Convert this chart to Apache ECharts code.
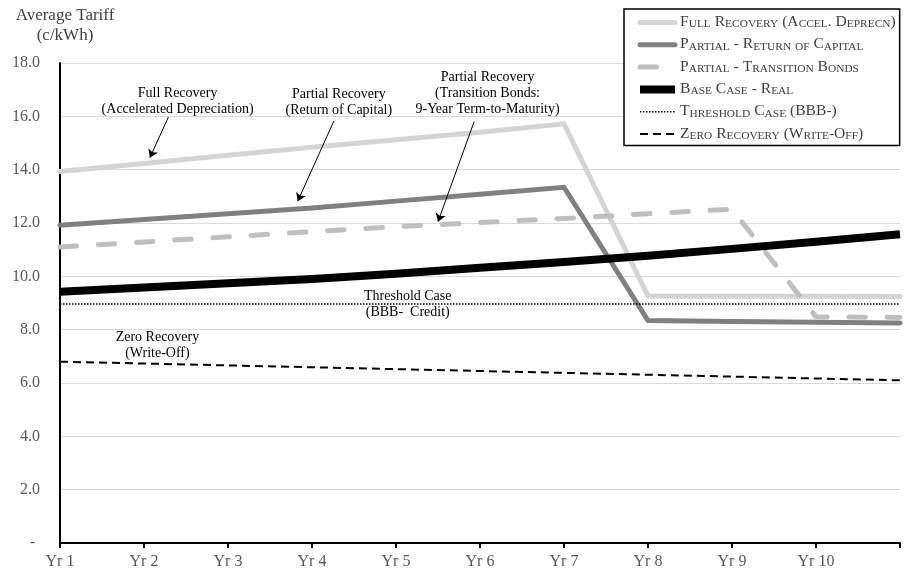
<!DOCTYPE html>
<html>
<head>
<meta charset="utf-8">
<script src="https://cdn.jsdelivr.net/npm/echarts@6/dist/echarts.min.js"></script>
<style>
  html, body { margin: 0; padding: 0; background: #fff; }
  #chart { width: 904px; height: 576px; }
</style>
</head>
<body>
<div id="chart"></div>
<script>
// Year labels along the horizontal axis (the 11th position is an unlabelled end tick)
const years = ['Yr 1', 'Yr 2', 'Yr 3', 'Yr 4', 'Yr 5', 'Yr 6', 'Yr 7', 'Yr 8', 'Yr 9', 'Yr 10', ''];

// Average tariff by scenario, c/kWh
const fullRecovery   = [13.93, 14.23, 14.54, 14.84, 15.12, 15.40, 15.72, 9.26, 9.25, 9.25, 9.24];
const partialCapital = [11.92, 12.13, 12.35, 12.56, 12.82, 13.08, 13.34, 8.34, 8.31, 8.28, 8.25];
const partialBonds   = [11.10, 11.29, 11.48, 11.68, 11.86, 12.02, 12.17, 12.35, 12.52, 8.48, 8.46];
const baseCase       = [9.42, 9.58, 9.74, 9.90, 10.10, 10.32, 10.54, 10.77, 11.03, 11.30, 11.58];
const thresholdCase  = [8.96, 8.96, 8.96, 8.96, 8.96, 8.96, 8.96, 8.96, 8.96, 8.96, 8.96];
const zeroRecovery   = [6.80, 6.73, 6.66, 6.59, 6.52, 6.45, 6.38, 6.31, 6.24, 6.17, 6.10];

// Vertical axis tick labels (0 shown as a dash)
const yTickLabels = ['-', '2.0', '4.0', '6.0', '8.0', '10.0', '12.0', '14.0', '16.0', '18.0'];

const seriesNames = [
  'Full Recovery (Accel. Deprecn)',
  'Partial - Return of Capital',
  'Partial - Transition Bonds',
  'Base Case - Real',
  'Threshold Case (BBB-)',
  'Zero Recovery (Write-Off)'
];

const SERIF = '"Liberation Serif", "Times New Roman", serif';

// Callout texts, anchored in data coordinates [year, tariff]
const callouts = [
  { text: 'Full Recovery\n(Accelerated Depreciation)', at: [2.40, 16.57] },
  { text: 'Partial Recovery\n(Return of Capital)', at: [4.32, 16.54] },
  { text: 'Partial Recovery\n(Transition Bonds:\n9-Year Term-to-Maturity)', at: [6.09, 16.87] },
  { text: 'Threshold Case\n(BBB-  Credit)', at: [5.14, 8.96] },
  { text: 'Zero Recovery\n(Write-Off)', at: [2.16, 7.42] }
];

// Leader arrows from callout text to the line they describe
const arrows = {
  0: [[2.29, 15.97], [2.07, 14.45]],
  1: [[4.26, 15.82], [3.83, 12.82]],
  2: [[5.93, 15.80], [5.50, 12.05]]
};

const toPairs = arr => arr.map((v, i) => [i + 1, v]);

// Render a name in small capitals using rich text tokens
function smallCaps(name) {
  let out = '';
  let cur = '';
  let kind = null;
  for (const ch of name) {
    const k = (ch >= 'a' && ch <= 'z') ? 'b' : 'a';
    if (k !== kind && cur) { out += '{' + kind + '|' + cur + '}'; cur = ''; }
    kind = k;
    cur += k === 'b' ? ch.toUpperCase() : ch;
  }
  if (cur) out += '{' + kind + '|' + cur + '}';
  return out;
}

function arrowMark(idx) {
  const seg = arrows[idx];
  if (!seg) return undefined;
  return {
    silent: true,
    animation: false,
    symbol: ['none', 'arrow'],
    symbolSize: 8,
    label: { show: false },
    lineStyle: { color: '#000', width: 1, type: 'solid' },
    itemStyle: { color: '#000' },
    emphasis: { disabled: true },
    data: [[{ coord: seg[0] }, { coord: seg[1] }]]
  };
}

const styles = [
  { color: '#d4d4d4', width: 5, type: 'solid', cap: 'round', join: 'miter' },
  { color: '#808080', width: 5, type: 'solid', cap: 'round', join: 'miter' },
  { color: '#bfbfbf', width: 5, type: [16.5, 21.8], cap: 'round', join: 'round' },
  { color: '#000000', width: 8, type: 'solid', cap: 'butt', join: 'miter' },
  { color: '#000000', width: 1.5, type: [1.5, 1.5], cap: 'butt', join: 'miter' },
  { color: '#000000', width: 2, type: [8, 5], cap: 'butt', join: 'miter' }
];

const values = [fullRecovery, partialCapital, partialBonds, baseCase, thresholdCase, zeroRecovery];

const chart = echarts.init(document.getElementById('chart'), null, { renderer: 'canvas' });

const option = {
  animation: false,
  backgroundColor: '#fff',
  grid: { left: 60, right: 4, top: 63, bottom: 33, containLabel: false },
  legend: {
    orient: 'vertical',
    left: 624,
    top: 9,
    padding: [5, 4, 4, 12],
    itemWidth: 35,
    itemHeight: 12,
    itemGap: 6.3,
    selectedMode: false,
    borderColor: '#000',
    borderWidth: 1.5,
    backgroundColor: '#fff',
    data: seriesNames,
    itemStyle: { opacity: 0 },
    lineStyle: { width: 'inherit', type: 'inherit', cap: 'inherit' },
    formatter: smallCaps,
    textStyle: {
      color: '#404040',
      fontFamily: SERIF,
      rich: {
        a: { fontSize: 15.6, lineHeight: 15, fontFamily: SERIF, color: '#404040', verticalAlign: 'bottom' },
        b: { fontSize: 11.4, lineHeight: 11, fontFamily: SERIF, color: '#404040', verticalAlign: 'bottom' }
      }
    }
  },
  xAxis: {
    type: 'value',
    min: 1,
    max: 11,
    interval: 1,
    axisLine: { show: true, onZero: false, lineStyle: { color: '#000', width: 2 } },
    axisTick: { show: true, length: 5, lineStyle: { color: '#000', width: 2 } },
    splitLine: { show: false },
    axisLabel: {
      margin: 11,
      color: '#595959',
      fontFamily: SERIF,
      fontSize: 16,
      formatter: v => years[Math.round(v) - 1] || ''
    }
  },
  yAxis: {
    type: 'value',
    min: 0,
    max: 18,
    interval: 2,
    axisLine: { show: true, onZero: false, lineStyle: { color: '#000', width: 2 } },
    axisTick: { show: false },
    splitLine: { show: true, lineStyle: { color: '#d9d9d9', width: 1 } },
    axisLabel: {
      margin: 20,
      color: '#595959',
      fontFamily: SERIF,
      fontSize: 16,
      formatter: v => {
        const s = yTickLabels[Math.round(v / 2)];
        return s === '-' ? '{d|-}' : s;
      },
      rich: { d: { fontSize: 16, fontFamily: SERIF, color: '#595959', padding: [0, 5, 0, 0] } }
    }
  },
  series: seriesNames.map((name, i) => ({
    name,
    type: 'line',
    data: toPairs(values[i]),
    showSymbol: false,
    symbol: 'none',
    silent: true,
    clip: true,
    lineStyle: styles[i],
    itemStyle: { color: styles[i].color },
    z: 2 + i,
    markLine: arrowMark(i)
  })),
  graphic: [
    {
      type: 'text',
      x: 65,
      y: 26,
      style: {
        text: 'Average Tariff\n(c/kWh)',
        align: 'center',
        verticalAlign: 'middle',
        lineHeight: 20,
        fill: '#404040',
        font: '17px ' + SERIF
      }
    }
  ]
};

chart.setOption(option);

// Place callout texts at their data positions
const calloutGraphics = callouts.map(c => {
  const p = chart.convertToPixel({ gridIndex: 0 }, c.at);
  return {
    type: 'text',
    x: p[0],
    y: p[1],
    z: 20,
    style: {
      text: c.text,
      align: 'center',
      verticalAlign: 'middle',
      lineHeight: 16,
      fill: '#000',
      font: '14px ' + SERIF
    }
  };
});
chart.setOption({ graphic: option.graphic.concat(calloutGraphics) });
</script>
</body>
</html>
